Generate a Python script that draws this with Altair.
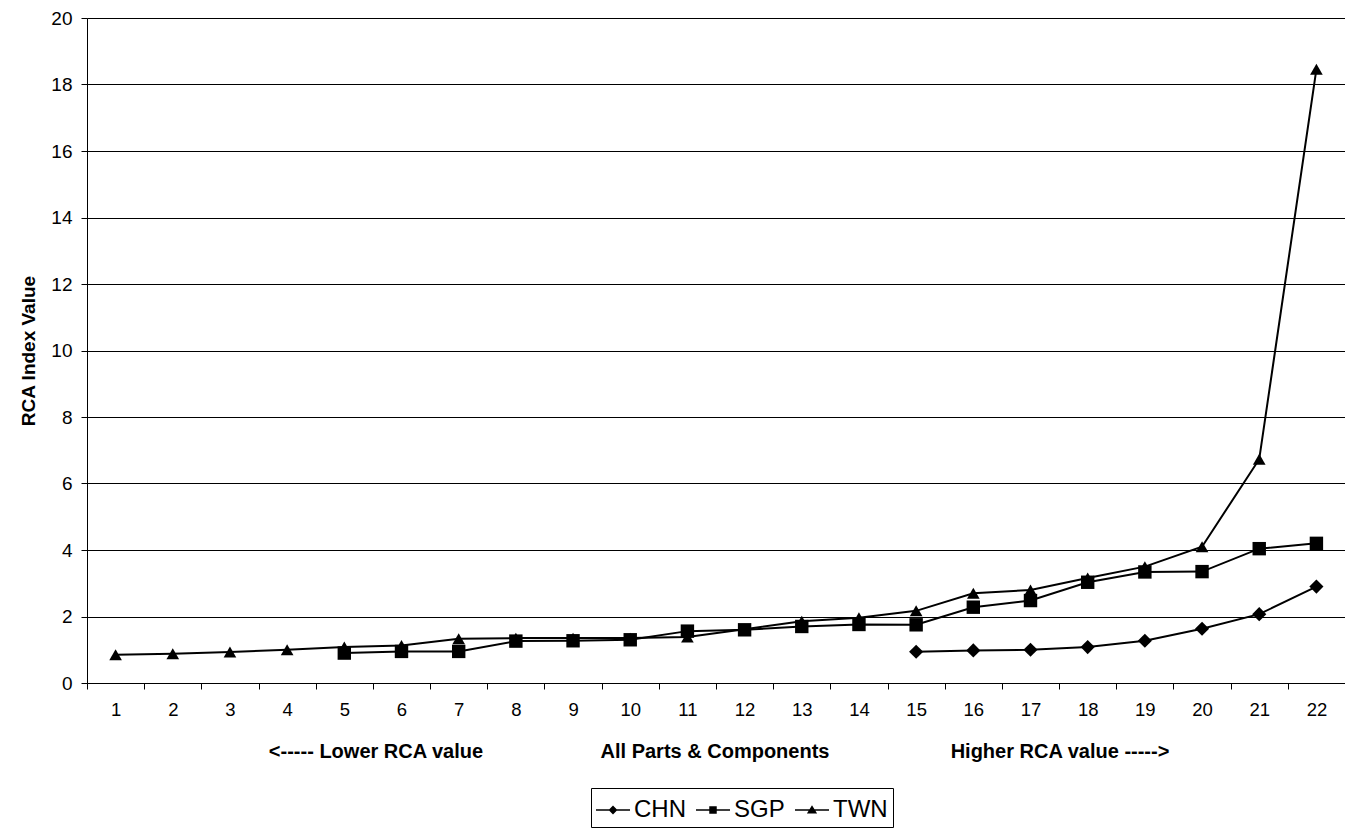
import altair as alt
import pandas as pd

categories = [str(i) for i in range(1, 23)]
chn = [None] * 14 + [0.94, 0.98, 1.0, 1.08, 1.27, 1.63, 2.07, 2.9]
sgp = [None] * 4 + [0.9, 0.95, 0.95, 1.26, 1.27, 1.3, 1.56, 1.6, 1.7, 1.76, 1.75, 2.28, 2.48,
                    3.03, 3.34, 3.35, 4.04, 4.2]
twn = [0.85, 0.88, 0.93, 1.0, 1.08, 1.13, 1.33, 1.35, 1.35, 1.35, 1.38, 1.62, 1.86, 1.96,
       2.17, 2.7, 2.8, 3.16, 3.5, 4.1, 6.73, 18.46]
series_names = ["CHN", "SGP", "TWN"]
y_ticks = list(range(0, 21, 2))
notes = ["<----- Lower RCA value", "All Parts & Components", "Higher RCA value ----->"]

rows = []
for name, vals in zip(series_names, [chn, sgp, twn]):
    for c, v in zip(categories, vals):
        if v is not None:
            rows.append({"cat": c, "value": v, "series": name})
df = pd.DataFrame(rows)

FONT = "Liberation Sans"
TOP = 10
W, H = 1258, 665

x_enc = alt.X(
    "cat:O",
    sort=categories,
    bandPosition=0.5,
    scale=alt.Scale(type="band", paddingInner=0, paddingOuter=0, domain=categories),
    axis=alt.Axis(
        title=None, labelAngle=0, tickBand="extent", tickSize=6, tickColor="black",
        domainColor="black", labelColor="black", labelFont=FONT, labelFontSize=18.5,
        labelPadding=11, grid=False,
    ),
)
y_enc = alt.Y(
    "value:Q",
    scale=alt.Scale(domain=[0, 20], nice=False),
    axis=alt.Axis(
        title="RCA Index Value", values=y_ticks, tickSize=6, tickColor="black",
        domainColor="black", labelColor="black", labelFont=FONT, labelFontSize=19,
        labelPadding=9, titleFont=FONT, titleFontSize=19, titleFontWeight="bold",
        titleColor="black", titlePadding=12, grid=True, gridColor="black",
        gridWidth=1,
    ),
)

base = alt.Chart(df)
lines = base.mark_line(color="black", strokeWidth=2).encode(
    x=x_enc, y=y_enc, detail="series:N"
)
points = base.mark_point(filled=True, color="black", opacity=1).encode(
    x=x_enc, y=y_enc,
    shape=alt.Shape("series:N", scale=alt.Scale(domain=series_names,
                                                range=["diamond", "square", "triangle-up"]),
                    legend=None),
    size=alt.Size("series:N", scale=alt.Scale(domain=series_names, range=[200, 160, 200]),
                  legend=None),
)

# legend symbols: a thin bar (the line) plus the marker, as filled paths
bar = "M-1,-0.05H1V0.05H-1Z"
legend_paths = [
    bar + "M-0.26,0L0,-0.26L0.26,0L0,0.26Z",
    bar + "M-0.22,-0.22H0.22V0.22H-0.22Z",
    bar + "M0,-0.28L0.3,0.2L-0.3,0.2Z",
]
legend_layer = base.mark_point(filled=True, color="black", opacity=0).encode(
    x=x_enc, y=y_enc,
    shape=alt.Shape(
        "series:N",
        scale=alt.Scale(domain=series_names, range=legend_paths),
        legend=alt.Legend(
            title=None, orient="none", legendX=504, legendY=788 - 8 - TOP,
            direction="horizontal",
            strokeColor="black", padding=5, symbolSize=1156, symbolOpacity=1,
            symbolFillColor="black", symbolStrokeColor="black", symbolStrokeWidth=0,
            labelFont=FONT, labelFontSize=24, labelColor="black", columnPadding=10,
            labelOffset=4, labelLimit=300,
        ),
    ),
)

main = alt.layer(lines, points, legend_layer).resolve_scale(shape="independent")

notes_df = pd.DataFrame({"t": notes, "px": [376 - 87, 715 - 87, 1060 - 87]})
notes_layer = alt.Chart(notes_df).mark_text(
    font=FONT, fontSize=20, fontWeight="bold", color="black", align="center", baseline="middle"
).encode(text="t:N", x=alt.X("px:Q", scale=None, axis=None), y=alt.value(H + 69))

chart = (
    alt.layer(main, notes_layer)
    .resolve_scale(x="independent")
    .properties(width=W, height=H, padding={"left": 79, "top": TOP, "right": 0, "bottom": 148},
                autosize=alt.AutoSizeParams(type="none"))
    .configure_view(stroke="black", strokeWidth=1)
    .configure(background="white")
)

chart.save("out.html", embed_options={"renderer": "svg", "actions": False})
